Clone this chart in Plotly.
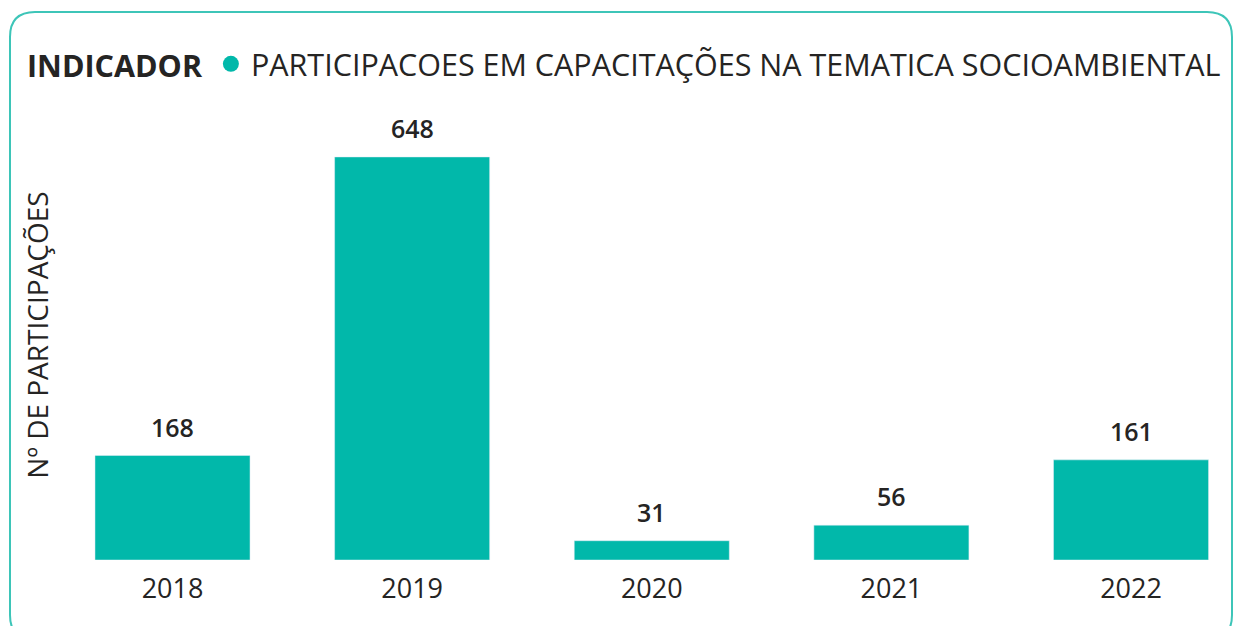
import plotly.graph_objects as go

years = ["2018", "2019", "2020", "2021", "2022"]
participacoes = [168, 648, 31, 56, 161]
series_name = "PARTICIPACOES EM CAPACITAÇÕES NA TEMATICA SOCIOAMBIENTAL"
legend_title = "INDICADOR"
y_title = "Nº DE PARTICIPAÇÕES"

TEAL = "#01B8AA"
TEXT = "#252423"
FONT = "Segoe UI, Open Sans, Noto Sans, sans-serif"

W, H = 1235, 626
ml, mr, mt, mb = 60, 5, 110, 66
pw, ph = W - ml - mr, H - mt - mb

fig = go.Figure()
fig.add_trace(go.Bar(
    x=years, y=participacoes, marker_color=TEAL, width=0.647,
    showlegend=False, name=series_name, hoverinfo="x+y",
))
fig.add_trace(go.Scatter(
    x=[None], y=[None], mode="markers", name=series_name,
    marker=dict(symbol="circle", size=20, color=TEAL), showlegend=True,
))
for i, v in enumerate(participacoes):
    fig.add_annotation(x=i, y=v, xref="x", yref="y", text=str(v), showarrow=False,
                       yanchor="bottom", yshift=10,
                       font=dict(size=25, color=TEXT, family=FONT, weight=600))

def px_x(p):
    return (p - ml) / pw

def px_y(p):
    return (H - mb - p) / ph

# rounded border
x0, x1 = px_x(10), px_x(1232)
y0, y1 = px_y(640), px_y(12)
rx, ry = 25 / pw, 25 / ph
path = (f"M {x0+rx},{y1} L {x1-rx},{y1} Q {x1},{y1} {x1},{y1-ry} "
        f"L {x1},{y0+ry} Q {x1},{y0} {x1-rx},{y0} L {x0+rx},{y0} "
        f"Q {x0},{y0} {x0},{y0+ry} L {x0},{y1-ry} Q {x0},{y1} {x0+rx},{y1} Z")
fig.add_shape(type="path", path=path, xref="paper", yref="paper",
              line=dict(color="#3DC5B8", width=2), layer="below")

fig.update_layout(
    width=W, height=H,
    margin=dict(l=ml, r=mr, t=mt, b=mb),
    paper_bgcolor="white", plot_bgcolor="white",
    font=dict(family=FONT, color=TEXT),
    showlegend=True,
    legend=dict(
        orientation="h", x=px_x(25), y=px_y(64), xanchor="left", yanchor="middle",
        title=dict(text=f"<b>{legend_title}</b>", font=dict(size=30.5, color=TEXT, family=FONT)),
        font=dict(size=30.5, color=TEXT, family=FONT),
        itemsizing="trace", bgcolor="rgba(0,0,0,0)",
    ),
    xaxis=dict(
        type="category", range=[-0.4695, 4.413], showgrid=False, zeroline=False,
        showline=False, ticks="", ticklabelstandoff=10,
        tickfont=dict(size=27, color=TEXT, family=FONT),
    ),
    yaxis=dict(
        range=[0, ph / 0.622], showgrid=False, zeroline=False, showline=False,
        showticklabels=False, ticks="",
        title=dict(text=y_title, font=dict(size=28, color=TEXT, family=FONT), standoff=2),
    ),
)

fig.write_html("out.html", config={"displayModeBar": False},
               post_script="document.body.style.margin='0';document.body.style.overflow='hidden';")
